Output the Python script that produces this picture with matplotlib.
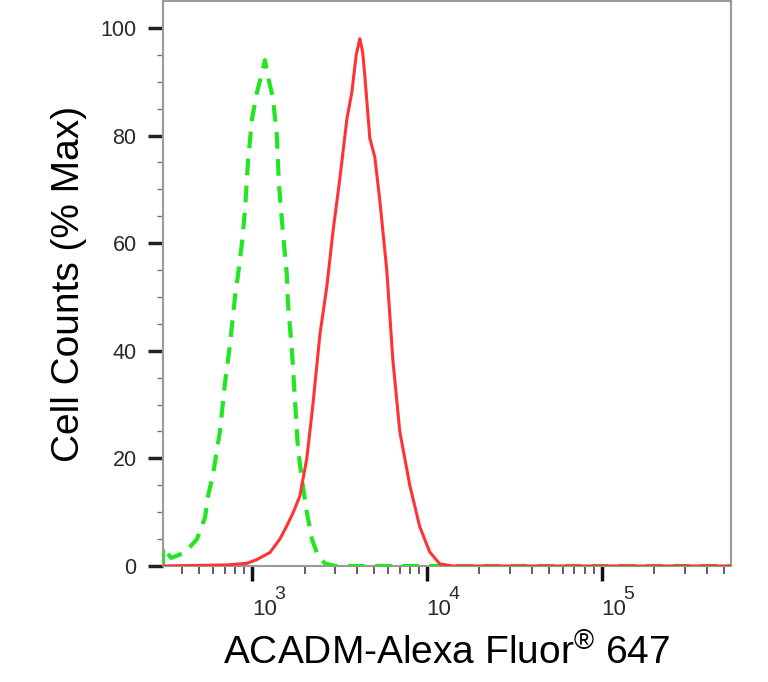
import numpy as np
import matplotlib
matplotlib.use("Agg")
import matplotlib.pyplot as plt
import matplotlib.transforms as mtransforms
from matplotlib.ticker import FixedLocator, NullFormatter

plt.rcParams['font.family'] = ['Liberation Sans', 'DejaVu Sans']
plt.rcParams['mathtext.fontset'] = 'custom'
plt.rcParams['mathtext.rm'] = 'Liberation Sans'
tick_font = ['Liberation Sans Narrow', 'Liberation Sans']

# isotype control (green, dashed)
ctrl_x = [310, 310, 345, 414, 485, 539, 561, 599, 656, 701, 748, 800, 832, 877,
          912, 949, 1000, 1068, 1140, 1187, 1234, 1318, 1389, 1426, 1504, 1585,
          1606, 1694, 1762, 1832, 1932, 2061, 2203, 2383, 2612, 2978, 550000]
ctrl_y = [0, 3.5, 1.5, 2.5, 5, 9, 13, 17, 25, 34, 41, 50, 54, 60,
          66, 75, 83, 88, 91.5, 94, 91, 87, 80, 71, 62, 54,
          49, 40, 31, 22, 16, 10, 5, 2, 0.5, 0, 0]

# ACADM stained (red)
acadm_x = [310, 720, 936, 1068, 1267, 1445, 1585, 1715, 1880, 2061, 2233, 2448,
           2684, 2904, 3184, 3491, 3727, 3950, 4140, 4300, 4426, 4725, 5046,
           5387, 5906, 6393, 7010, 7998, 9120, 10400, 11860, 14090, 550000]
acadm_y = [0, 0.2, 0.5, 1.2, 2.5, 5, 7.5, 9.8, 13, 20, 30, 43,
           52, 62, 72, 83, 88, 95, 98, 95.5, 91, 79.5, 76,
           68, 55, 38.5, 25, 15, 7.3, 2.6, 0.4, 0, 0]

y_ticks = [0, 20, 40, 60, 80, 100]
x_major = [1e3, 1e4, 1e5]
x_exps = ['3', '4', '5']

fig = plt.figure(figsize=(7.68, 6.82), dpi=100)
ax = fig.add_axes([163/768, 1 - 566/682, (731-163)/768, 565/682])

ax.plot(ctrl_x, ctrl_y, color='#22e622', lw=3, ls=(0, (4, 2.5)), zorder=3)
ax.plot(acadm_x, acadm_y, color='#ff3333', lw=2.2, zorder=4)

ax.set_xscale('log')
ax.set_xlim(310, 550000)
ax.set_ylim(0, 105)

ax.yaxis.set_major_locator(FixedLocator(y_ticks))
ax.yaxis.set_minor_locator(FixedLocator(np.arange(0, 105, 5)))
ax.xaxis.set_major_locator(FixedLocator(x_major))
ax.xaxis.set_major_formatter(NullFormatter())
minors = [m * 10**d for d in range(2, 6) for m in range(2, 10)]
ax.xaxis.set_minor_locator(FixedLocator(minors))
ax.xaxis.set_minor_formatter(NullFormatter())

for s in ax.spines.values():
    s.set_color('#9a9a9a')
    s.set_linewidth(1.5)

ax.tick_params(axis='y', which='major', length=11, width=2.5, color='#222222',
               labelsize=15.5, labelcolor='#2a2a2a', pad=8)
ax.tick_params(axis='y', which='minor', length=4.5, width=1, color='#777777')
ax.tick_params(axis='x', which='major', length=11, width=2.5, color='#111111')
ax.tick_params(axis='x', which='minor', length=6, width=1.2, color='#444444')
for lab in ax.get_yticklabels():
    lab.set_family(tick_font)

# x tick labels: "10" with a large raised exponent, left-aligned at the tick
trans = mtransforms.blended_transform_factory(ax.transData, ax.transAxes)
exp_trans = mtransforms.offset_copy(trans, fig=fig, x=22, y=13, units='dots')
for v, e in zip(x_major, x_exps):
    ax.text(v, -0.058, '10', transform=trans, ha='left', va='top',
            fontsize=16, color='#2a2a2a', family=tick_font)
    ax.text(v, -0.058, e, transform=exp_trans, ha='left', va='top',
            fontsize=14, color='#2a2a2a', family=tick_font)

ax.set_ylabel('Cell Counts (% Max)', fontsize=28, labelpad=10)
ax.set_xlabel('ACADM-Alexa Fluor$^{\\mathregular{®}}$ 647', fontsize=28, labelpad=34)

fig.savefig('out.png', dpi=100)
